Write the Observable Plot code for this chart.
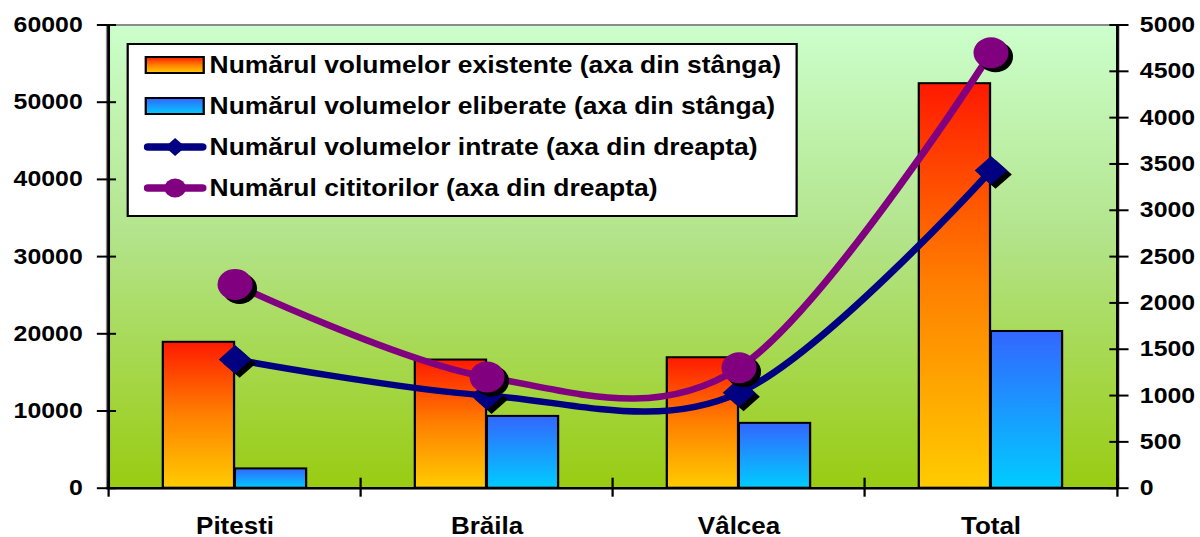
<!DOCTYPE html>
<html>
<head>
<meta charset="utf-8">
<script src="https://cdn.jsdelivr.net/npm/d3@7"></script>
<script src="https://cdn.jsdelivr.net/npm/@observablehq/plot@0.6"></script>
<style>
  html, body { margin: 0; padding: 0; background: #fff; overflow: hidden; }
  #wrap { position: relative; width: 1062px; height: 537px; transform: scaleX(1.13); transform-origin: 0 0;
          font-family: "Liberation Sans", Arial, sans-serif; font-weight: bold; color: #000; }
  #legend { position: absolute; left: 111.5px; top: 42.7px; width: 594px; height: 174px; box-sizing: border-box;
            border: 2px solid #000; background: #fff; }
  #legend .row { position: absolute; left: 0; height: 30px; width: 100%; }
  #legend .row svg { position: absolute; left: 13px; top: 0; }
  #legend .row span { position: absolute; left: 72px; top: 0; line-height: 30px; font-size: 23.4px; white-space: nowrap; }
</style>
</head>
<body>
<div id="wrap"><div id="legend"></div></div>
<script>
// ---- data ----
const categories = ["Pitesti", "Brăila", "Vâlcea", "Total"];
const existente = [18900, 16600, 16900, 52400];   // left axis
const eliberate = [2500, 9300, 8400, 20300];      // left axis
const intrate   = [1390, 1000, 1030, 3430];       // right axis
const cititori  = [2200, 1200, 1300, 4700];       // right axis
const leftTicks  = [0, 10000, 20000, 30000, 40000, 50000, 60000];
const rightTicks = [0, 500, 1000, 1500, 2000, 2500, 3000, 3500, 4000, 4500, 5000];
const seriesNames = [
  "Numărul volumelor existente (axa din stânga)",
  "Numărul volumelor eliberate (axa din stânga)",
  "Numărul volumelor intrate (axa din dreapta)",
  "Numărul cititorilor (axa din dreapta)"
];

// ---- layout ----
const W = 1062, H = 537;
const mL = 94.2, mR = 72.8, mT = 24.5, mB = 49.3;
const bw = (W - mL - mR) / categories.length;
const k = leftTicks[leftTicks.length - 1] / rightTicks[rightTicks.length - 1];
const last = categories[categories.length - 1];

const rows = (vals) => categories.map((c, i) => ({c, v: vals[i]}));
const dEx = rows(existente), dEl = rows(eliberate), dIn = rows(intrate), dCi = rows(cititori);

const font = "'Liberation Sans', Arial, sans-serif";

const chart = Plot.plot({
  width: W, height: H,
  marginLeft: mL, marginRight: mR, marginTop: mT, marginBottom: mB,
  style: {fontFamily: font, fontWeight: "bold", fontSize: "22px", color: "#000", background: "transparent", overflow: "visible"},
  x: {type: "band", domain: categories, padding: 0, axis: null},
  y: {domain: [0, leftTicks[leftTicks.length - 1]], axis: null},
  marks: [
    Plot.frame({fill: "url(#bgGrad)", stroke: "#8c8c8c", strokeWidth: 2}),
    Plot.barY(dEx, {x: "c", y: "v", fill: "url(#gOrange)", stroke: "#000", strokeWidth: 2,
                    insetLeft: bw * 0.215, insetRight: bw * 0.5}),
    Plot.barY(dEl, {x: "c", y: "v", fill: "url(#gBlue)", stroke: "#000", strokeWidth: 2,
                    insetLeft: bw * 0.5, insetRight: bw * 0.215}),
    // axis lines
    Plot.ruleY([0], {stroke: "#000", strokeWidth: 2.5}),
    Plot.ruleX([categories[0]], {x: d => d, dx: -bw / 2, stroke: "#000", strokeWidth: 2.5}),
    Plot.ruleX([last], {x: d => d, dx: bw / 2, stroke: "#000", strokeWidth: 2.5}),
    // category separator ticks
    Plot.ruleX(categories, {x: d => d, y1: 0, y2: 0, dx: -bw / 2, insetTop: -10, insetBottom: -9, stroke: "#000", strokeWidth: 2}),
    Plot.ruleX([last], {x: d => d, y1: 0, y2: 0, dx: bw / 2, insetTop: -10, insetBottom: -9, stroke: "#000", strokeWidth: 2}),
    // y tick marks (crossing the axis lines)
    Plot.axisY({anchor: "left", ticks: leftTicks, tickSize: 17, dx: 8.5, tickFormat: () => null, label: null, strokeWidth: 2}),
    Plot.axisY({anchor: "right", ticks: rightTicks.map(v => v * k), tickSize: 17, dx: -8.5, tickFormat: () => null, label: null, strokeWidth: 2}),
    // y tick labels
    Plot.axisY({anchor: "left", ticks: leftTicks, tickSize: 0, tickPadding: 21.5, label: null, fontSize: 22, tickFormat: d => String(d)}),
    Plot.axisY({anchor: "right", ticks: rightTicks.map(v => v * k), tickSize: 0, tickPadding: 19, label: null, fontSize: 22, tickFormat: d => String(Math.round(d / k))}),
    // x labels
    Plot.axisX({tickSize: 0, tickPadding: 29, label: null, fontSize: 23}),
    // lines
    Plot.line(dIn, {x: "c", y: d => d.v * k, stroke: "#000080", strokeWidth: 6.5, curve: "cardinal"}),
    Plot.dot(dIn, {x: "c", y: d => d.v * k, symbol: "diamond2", r: 13, fill: "#000", dx: 4, dy: 4}),
    Plot.dot(dIn, {x: "c", y: d => d.v * k, symbol: "diamond2", r: 13, fill: "#000080"}),
    Plot.line(dCi, {x: "c", y: d => d.v * k, stroke: "#800080", strokeWidth: 6.5, curve: "cardinal"}),
    Plot.dot(dCi, {x: "c", y: d => d.v * k, r: 15.5, fill: "#000", dx: 4, dy: 4}),
    Plot.dot(dCi, {x: "c", y: d => d.v * k, r: 15.5, fill: "#800080"})
  ]
});

// gradients
const defs = d3.select(chart).insert("defs", ":first-child");
function grad(id, stops) {
  const g = defs.append("linearGradient").attr("id", id).attr("x1", 0).attr("y1", 0).attr("x2", 0).attr("y2", 1);
  stops.forEach(([o, c]) => g.append("stop").attr("offset", o).attr("stop-color", c));
}
grad("bgGrad", [[0, "#ccffcc"], [0.45, "#b3e48c"], [1, "#99cc11"]]);
grad("gOrange", [[0, "#ff1a00"], [0.5, "#ff8000"], [1, "#ffcc00"]]);
grad("gBlue", [[0, "#3366ff"], [1, "#00ccff"]]);

document.getElementById("wrap").prepend(chart);

// legend
const legend = document.getElementById("legend");
const centers = [20, 61.5, 102, 143.5];
const ns = "http://www.w3.org/2000/svg";
seriesNames.forEach((name, i) => {
  const row = document.createElement("div");
  row.className = "row";
  row.style.top = (centers[i] - 15) + "px";
  let sw;
  if (i < 2) {
    sw = `<svg width="56" height="30">
      <defs><linearGradient id="lg${i}" x1="0" y1="0" x2="0" y2="1">
        ${i === 0 ? '<stop offset="0" stop-color="#ff1a00"/><stop offset="0.5" stop-color="#ff8000"/><stop offset="1" stop-color="#ffcc00"/>'
                  : '<stop offset="0" stop-color="#3366ff"/><stop offset="1" stop-color="#00ccff"/>'}
      </linearGradient></defs>
      <rect x="2" y="7" width="51.3" height="16" fill="url(#lg${i})" stroke="#000" stroke-width="2"/></svg>`;
  } else {
    const col = i === 2 ? "#000080" : "#800080";
    const marker = i === 2
      ? `<path d="M28,6 L37,15 L28,24 L19,15 Z" fill="${col}"/>`
      : `<circle cx="28" cy="15" r="9.5" fill="${col}"/>`;
    sw = `<svg width="58" height="30"><line x1="4" y1="15" x2="52" y2="15" stroke="${col}" stroke-width="7.5" stroke-linecap="round"/>${marker}</svg>`;
  }
  row.innerHTML = sw + `<span>${name}</span>`;
  legend.appendChild(row);
});
</script>
</body>
</html>
